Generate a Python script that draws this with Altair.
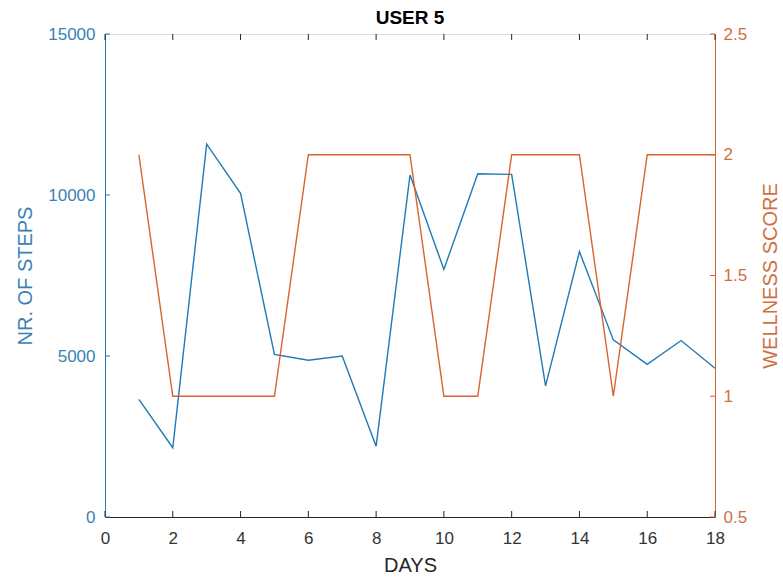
import altair as alt
import pandas as pd

days = list(range(1, 19))
steps = [3650, 2150, 11580, 10050, 5050, 4870, 5000, 2200, 10620,
         7690, 10660, 10640, 4070, 8240, 5500, 4740, 5480, 4620]
wellness = [2, 1, 1, 1, 1, 2, 2, 2, 2, 1, 1, 2, 2, 2, 1, 2, 2, 2]

x_ticks = [0, 2, 4, 6, 8, 10, 12, 14, 16, 18]
step_ticks = [0, 5000, 10000, 15000]
well_ticks = [0.5, 1, 1.5, 2, 2.5]

BLUE = "#1f7ab8"
BLUE_TXT = "#3a82b5"
ORANGE = "#d9622e"
ORANGE_TXT = "#d0703f"
DARK = "#262626"
FONT = "Liberation Sans"
W, H = 610, 483

df = pd.DataFrame({"day": days, "steps": steps, "wellness": wellness})
xt = pd.DataFrame({"day": x_ticks})
st = pd.DataFrame({"steps": step_ticks})
wt = pd.DataFrame({"wellness": well_ticks})

xscale = alt.Scale(domain=[0, 18], nice=False, zero=False)
sscale = alt.Scale(domain=[0, 15000], nice=False)
wscale = alt.Scale(domain=[0.5, 2.5], nice=False, zero=False)

xaxis = alt.Axis(values=x_ticks, title="DAYS", grid=False, tickSize=0,
                 labelPadding=13, labelFontSize=17, labelColor="#333333",
                 titleFontSize=20, titleFontWeight="normal", titleColor=DARK,
                 titlePadding=9, domainColor=DARK, labelFont=FONT, titleFont=FONT,
                 labelFlush=False, format="d")

steps_line = alt.Chart(df).mark_line(color=BLUE, strokeWidth=1.4).encode(
    x=alt.X("day:Q", scale=xscale, axis=xaxis),
    y=alt.Y("steps:Q", scale=sscale,
            axis=alt.Axis(values=step_ticks, title="NR. OF STEPS", grid=False,
                          tickSize=0, labelPadding=10, labelFontSize=17,
                          labelColor=BLUE_TXT, titleColor=BLUE_TXT, titleFontSize=20,
                          titleFontWeight="normal", domainColor=BLUE,
                          titlePadding=12, labelFont=FONT, titleFont=FONT,
                          labelFlush=False, format="d")),
)
left_ticks = alt.Chart(st).mark_rule(color=BLUE, strokeWidth=1).encode(
    y=alt.Y("steps:Q", scale=sscale),
    x=alt.value(0), x2=alt.value(5),
)
bottom_ticks = alt.Chart(xt).mark_rule(color=DARK, strokeWidth=1).encode(
    x=alt.X("day:Q", scale=xscale),
    y=alt.value(H), y2=alt.value(H - 6),
)
top_ticks = alt.Chart(xt).mark_rule(color=DARK, strokeWidth=1).encode(
    x=alt.X("day:Q", scale=xscale),
    y=alt.value(0), y2=alt.value(6),
)

well_line = alt.Chart(df).mark_line(color=ORANGE, strokeWidth=1.4).encode(
    x=alt.X("day:Q", scale=xscale),
    y=alt.Y("wellness:Q", scale=wscale,
            axis=alt.Axis(orient="right", values=well_ticks, title="WELLNESS SCORE",
                          grid=False, tickSize=0, labelPadding=8, labelFontSize=17,
                          labelColor=ORANGE_TXT, titleColor=ORANGE_TXT, titleFontSize=20,
                          titleFontWeight="normal", domainColor=ORANGE,
                          titleAngle=270, titlePadding=34, labelFont=FONT,
                          titleFont=FONT, labelFlush=False, format="~g")),
)
right_ticks = alt.Chart(wt).mark_rule(color=ORANGE, strokeWidth=1).encode(
    y=alt.Y("wellness:Q", scale=wscale),
    x=alt.value(W), x2=alt.value(W - 5),
)

left = alt.layer(steps_line, left_ticks, bottom_ticks, top_ticks)
right = alt.layer(well_line, right_ticks)

chart = alt.layer(left, right).resolve_scale(y="independent").properties(
    width=W, height=H,
    title=alt.TitleParams("USER 5", fontSize=19, fontWeight="bold", color="#000000",
                          font=FONT, offset=-3, anchor="middle"),
    autosize=alt.AutoSizeParams(type="none"),
    padding={"left": 105, "top": 34, "right": 68, "bottom": 64},
).configure_view(stroke=DARK, strokeWidth=1).configure(background="white")

chart.save("out.html", embed_options={"renderer": "svg", "actions": False})
